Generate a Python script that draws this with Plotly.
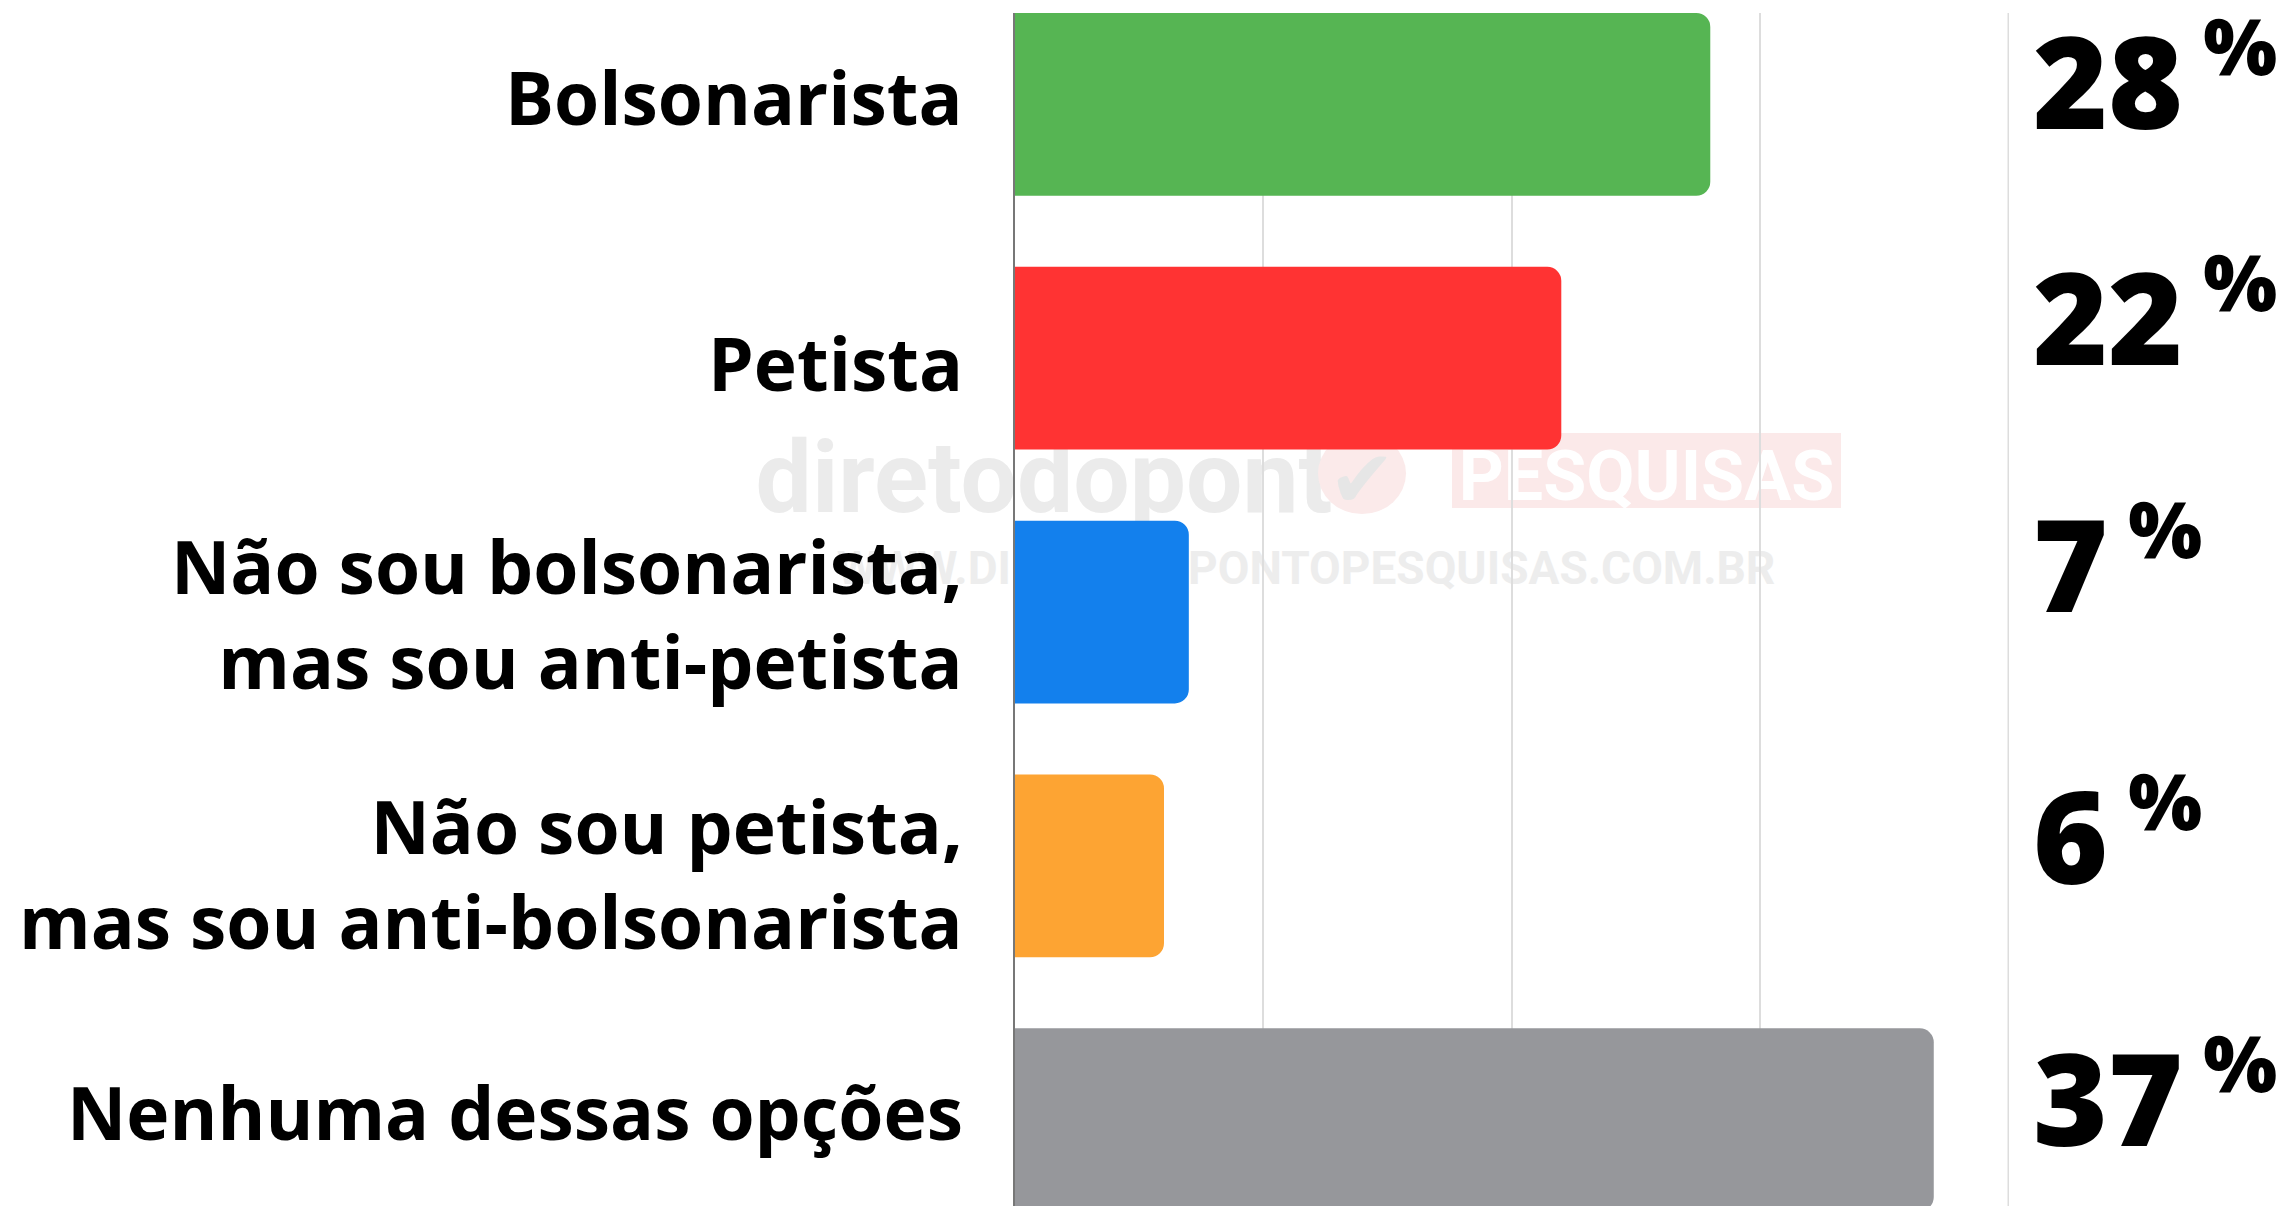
import plotly.graph_objects as go

categories = [
    "Bolsonarista",
    "Petista",
    "Não sou bolsonarista,<br>mas sou anti-petista",
    "Não sou petista,<br>mas sou anti-bolsonarista",
    "Nenhuma dessas opções",
]
values = [28, 22, 7, 6, 37]
colors = ["#56B553", "#FF3333", "#1380ED", "#FDA433", "#96979B"]
value_lift = [25, 43, 50, 31, 23]
name_lift = [8, -4, -1, -7, 8]

W, H = 2282, 1206
L, R, T, B = 1015, 273, 13, 0

fig = go.Figure()
fig.add_trace(go.Bar(
    x=values, y=categories, orientation="h",
    marker=dict(color=colors, line=dict(width=0)),
    width=0.72, hoverinfo="skip",
))

for c, lift in zip(categories, name_lift):
    fig.add_annotation(
        x=0, xref="paper", y=c, yref="y",
        xanchor="right", yanchor="middle", xshift=-50, yshift=lift,
        text=c, align="right", showarrow=False,
        font=dict(family="Open Sans", size=73, color="#000000", weight="bold"),
    )

for c, v, lift in zip(categories, values, value_lift):
    fig.add_annotation(
        x=1, xref="paper", y=c, yref="y",
        xanchor="left", yanchor="middle", xshift=22, yshift=lift,
        text=f"{v}<sup><span style='font-size:78px'> %</span></sup>",
        showarrow=False,
        font=dict(family="Noto Sans, Roboto, sans-serif", size=128, color="#000000",
                  weight=900),
    )

def px_x(p):
    return (p - L) / (W - L - R)

def px_y(p):
    return (H - B - p) / (H - T - B)

wm_gray = "#EBEBEB"
fig.add_shape(type="rect", xref="paper", yref="paper", layer="below",
              x0=px_x(781), x1=px_x(1307), y0=px_y(520), y1=px_y(420),
              line=dict(width=0), fillcolor="rgba(0,0,0,0)",
              label=dict(text="diretodopont", font=dict(family="Roboto", size=100,
                                                        color=wm_gray, weight="bold")))
fig.add_shape(type="circle", xref="paper", yref="paper", layer="below",
              x0=px_x(1318), x1=px_x(1406), y0=px_y(514), y1=px_y(433),
              line=dict(width=0), fillcolor="#FBEAEA",
              label=dict(text="✔", font=dict(family="DejaVu Sans", size=80,
                                             color="#E6E6E6")))
fig.add_shape(type="rect", xref="paper", yref="paper", layer="below",
              x0=px_x(1452), x1=px_x(1841), y0=px_y(508), y1=px_y(433),
              line=dict(width=0), fillcolor="#FBE9E9",
              label=dict(text="PESQUISAS", font=dict(family="Roboto", size=70,
                                                     color="#FFFFFF", weight="bold")))
fig.add_shape(type="rect", xref="paper", yref="paper", layer="below",
              x0=px_x(850), x1=px_x(1762), y0=px_y(583), y1=px_y(546),
              line=dict(width=0), fillcolor="rgba(0,0,0,0)",
              label=dict(text="WWW.DIRETODOPONTOPESQUISAS.COM.BR",
                         font=dict(family="Roboto", size=46, color="#EDEDED", weight="bold")))
# right-most gridline (40)
fig.add_shape(type="line", xref="x", yref="paper", layer="below",
              x0=40, x1=40, y0=0, y1=1, line=dict(color="#DDDDDD", width=1.5))

fig.update_layout(
    width=W, height=H,
    margin=dict(l=L, r=R, t=T, b=B, pad=0, autoexpand=False),
    paper_bgcolor="white", plot_bgcolor="white",
    showlegend=False,
    barcornerradius=14,
    xaxis=dict(range=[0, 40.03], dtick=10, tick0=0, showgrid=True, gridcolor="#DDDDDD",
               gridwidth=1.5, zeroline=False, showticklabels=False, ticks="",
               showline=False, fixedrange=True, automargin=False),
    yaxis=dict(categoryorder="array", categoryarray=categories,
               range=[4.34, -0.36], showgrid=False, zeroline=False, automargin=False,
               showline=True, linecolor="#777777", linewidth=1.5, layer="below traces",
               ticks="", showticklabels=False, fixedrange=True),
)

fig.write_html("out.html", config={"displayModeBar": False},
               post_script="document.body.style.margin='0';"
                           "document.documentElement.style.overflow='hidden';")
